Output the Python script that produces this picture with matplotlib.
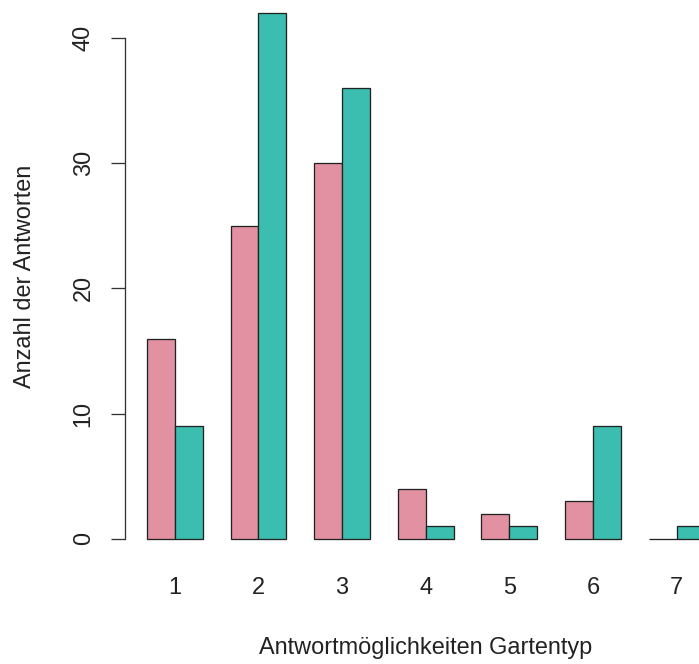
import matplotlib
matplotlib.use("Agg")
import matplotlib.pyplot as plt
import numpy as np

plt.rcParams['font.family'] = ['Liberation Sans', 'DejaVu Sans']

# answer categories and the two response groups
categories = ['1', '2', '3', '4', '5', '6', '7']
group_a = [16, 25, 30, 4, 2, 3, 0]
group_b = [9, 42, 36, 1, 1, 9, 1]
y_ticks = [0, 10, 20, 30, 40]

col_a = '#E291A2'
col_b = '#3BBEAF'

W, H, DPI = 699, 664, 72
fig = plt.figure(figsize=(W / DPI, H / DPI), dpi=DPI)

# plot region in pixels (barplot style: 4% padding around data range)
x0, x1 = 0.2, 21.8
y0, y1 = -1.68, 43.68
left_px, right_px = 124.7, 726.7
bottom_px, top_px = 560.0, -8.1
ax = fig.add_axes([left_px / W, (H - bottom_px) / H,
                   (right_px - left_px) / W, (bottom_px - top_px) / H])
ax.set_xlim(x0, x1)
ax.set_ylim(y0, y1)

idx = np.arange(len(categories))
left_a = 1 + 3 * idx
left_b = 2 + 3 * idx
ax.bar(left_a, group_a, width=1, align='edge', color=col_a,
       edgecolor='#222222', linewidth=1.3)
ax.bar(left_b, group_b, width=1, align='edge', color=col_b,
       edgecolor='#222222', linewidth=1.3)

for s in ['top', 'right', 'bottom']:
    ax.spines[s].set_visible(False)
ax.spines['left'].set_bounds(0, 40)
ax.spines['left'].set_color('#333333')
ax.spines['left'].set_linewidth(1.3)

fs = 23.5
ax.set_yticks(y_ticks)
ax.set_yticklabels([str(v) for v in y_ticks], rotation=90, va='center')
ax.tick_params(axis='y', length=14, width=1.3, color='#333333', pad=16,
               labelsize=fs, labelcolor='#222222')

ax.set_xticks(left_a + 1)
ax.set_xticklabels(categories)
ax.tick_params(axis='x', length=0, pad=17, labelsize=fs, labelcolor='#222222')

ax.set_xlabel('Antwortmöglichkeiten Gartentyp', fontsize=fs, color='#222222')
ax.set_ylabel('Anzahl der Antworten', fontsize=fs, color='#222222')
ax.xaxis.label.set_va('center')
ax.yaxis.label.set_va('center')
ax.xaxis.set_label_coords(0.5, -(648 - bottom_px) / (bottom_px - top_px))
ax.yaxis.set_label_coords(-(left_px - 25) / (right_px - left_px), 0.5)

fig.savefig('out.png', dpi=DPI)
